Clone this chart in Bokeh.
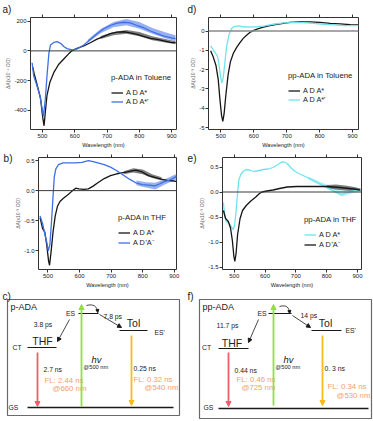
from bokeh.plotting import figure
from bokeh.models import (Range1d, LinearAxis, FixedTicker, Span, Legend, LegendItem,
                          Label, Arrow, NormalHead, PrintfTickFormatter)
from bokeh.layouts import row, column
from bokeh.embed import file_html
from bokeh.resources import INLINE
from bokeh.core.properties import value

FONT = "Liberation Sans"
WL_TICKS = [500, 600, 700, 800, 900]

# ---------------- data ----------------
# a) p-ADA in Toluene  (x10^-6 OD)
a_black_wl = [470, 474, 483, 494, 501, 505, 509, 514, 523, 535, 550, 566, 581, 592, 607, 628, 648, 669,
              690, 710, 731, 752, 772, 793, 813, 834, 855, 876, 896, 912]
a_black = [-110, -150, -225, -320, -450, -505, -410, -300, -212, -147, -92, -55, -20, 2, 17, 33, 55, 79,
           98, 116, 127, 129, 122, 112, 98, 85, 77, 68, 57, 55]
a_blue_wl = [468, 473, 483, 492, 499, 503, 509, 514, 520, 525, 535, 545, 556, 566, 576, 592, 607, 628, 648,
             669, 690, 710, 731, 752, 772, 793, 813, 834, 855, 876, 896, 912]
a_blue = [-80, -170, -235, -300, -390, -440, -323, -169, -15, 40, 57, 62, 51, 29, 15, 7, 13, 40, 77,
          116, 149, 171, 187, 193, 189, 171, 156, 134, 116, 99, 90, 83]
# noise envelopes (low, high)
a_blue_band_wl = [640, 680, 720, 760, 800, 840, 880, 912]
a_blue_lo = [55, 118, 160, 172, 150, 115, 85, 65]
a_blue_hi = [75, 148, 195, 215, 195, 155, 125, 105]
a_black_band_wl = [680, 720, 760, 800, 840, 880, 912]
a_black_lo = [80, 106, 116, 98, 72, 56, 45]
a_black_hi = [100, 128, 140, 128, 98, 80, 65]

# b) p-ADA in THF  (x10^-3 OD)
b_black_wl = [475, 483, 490, 496, 502, 505, 510, 516, 523, 530, 538, 548, 563, 578, 588, 598, 613, 628, 643,
              658, 678, 698, 718, 738, 758, 778, 798, 818, 838, 858, 878, 898, 908]
b_black = [-0.45, -0.63, -0.69, -0.90, -1.17, -1.24, -1.01, -0.69, -0.42, -0.26, -0.18, -0.13, -0.07, 0.0,
           0.04, 0.03, 0.02, 0.03, 0.075, 0.13, 0.20, 0.25, 0.28, 0.30, 0.32, 0.34, 0.31, 0.25, 0.22, 0.19,
           0.17, 0.16, 0.15]
b_blue_wl = [475, 483, 490, 496, 501, 506, 511, 516, 520, 525, 533, 548, 568, 588, 608, 628, 643, 658, 678,
             698, 718, 738, 758, 778, 798, 818, 838, 853, 868, 888, 908]
b_blue = [-0.42, -0.55, -0.72, -0.85, -1.00, -0.90, -0.53, -0.10, 0.23, 0.36, 0.43, 0.46, 0.46, 0.46, 0.47,
          0.50, 0.48, 0.46, 0.43, 0.39, 0.33, 0.26, 0.19, 0.13, 0.10, 0.09, 0.08, 0.11, 0.15, 0.18, 0.24]
b_blue_band_wl = [780, 810, 840, 870, 908]
b_blue_lo = [0.09, 0.05, 0.02, 0.10, 0.19]
b_blue_hi = [0.17, 0.14, 0.13, 0.19, 0.28]
b_black_band_wl = [740, 770, 800, 830, 860]
b_black_lo = [0.27, 0.30, 0.27, 0.21, 0.17]
b_black_hi = [0.32, 0.37, 0.35, 0.27, 0.22]

# d) pp-ADA in Toluene  (x10^-3 OD)
d_black_wl = [469, 477, 485, 492, 497, 502, 506, 510, 515, 522, 529, 538, 548, 558, 568, 578, 588, 598, 614,
              629, 649, 670, 690, 710, 741, 771, 801, 832, 862, 893, 918]
d_black = [-1.02, -1.35, -1.77, -2.50, -3.50, -4.35, -4.68, -4.27, -3.35, -2.27, -1.60, -1.15, -0.85, -0.60,
           -0.38, -0.22, -0.08, 0.02, 0.12, 0.20, 0.28, 0.35, 0.40, 0.45, 0.47, 0.47, 0.45, 0.40, 0.37, 0.33,
           0.32]
d_cyan_wl = [469, 475, 482, 489, 494, 499, 503, 507, 512, 517, 525, 532, 540, 553, 568, 588, 609, 629, 659,
             690, 720, 751, 781, 812, 842, 873, 903, 918]
d_cyan = [-0.77, -0.93, -1.10, -1.27, -1.68, -2.35, -2.68, -2.43, -1.68, -0.85, -0.18, 0.12, 0.23, 0.27, 0.22,
          0.20, 0.22, 0.25, 0.35, 0.42, 0.43, 0.43, 0.40, 0.35, 0.32, 0.28, 0.28, 0.28]

# e) pp-ADA in THF  (x10^-3 OD)
e_cyan_wl = [465, 469, 474, 481, 488, 493, 497, 501, 505, 510, 515, 522, 529, 539, 549, 565, 580, 595, 611,
             626, 642, 654, 662, 672, 683, 698, 713, 734, 754, 775, 795, 816, 837, 847, 857, 878, 898, 908]
e_cyan = [-0.21, -0.46, -0.59, -0.62, -0.67, -0.72, -0.75, -0.67, -0.46, -0.08, 0.24, 0.36, 0.41, 0.45, 0.44,
          0.41, 0.43, 0.45, 0.46, 0.49, 0.55, 0.60, 0.60, 0.57, 0.49, 0.41, 0.36, 0.30, 0.24, 0.17, 0.11,
          0.04, -0.02, -0.05, -0.03, 0.01, 0.03, 0.04]
e_black_wl = [465, 472, 481, 488, 494, 499, 502, 506, 511, 519, 527, 539, 554, 570, 580, 590, 606, 626, 647,
              672, 703, 734, 765, 796, 826, 857, 888, 908]
e_black = [-0.37, -0.53, -0.59, -0.72, -0.97, -1.29, -1.39, -1.23, -0.85, -0.53, -0.37, -0.27, -0.18, -0.10,
           -0.04, 0.0, 0.02, 0.04, 0.07, 0.10, 0.11, 0.11, 0.11, 0.11, 0.10, 0.08, 0.06, 0.04]
e_cyan_band_wl = [740, 780, 820, 850, 880, 910]
e_cyan_lo = [0.25, 0.13, 0.0, -0.09, -0.03, 0.01]
e_cyan_hi = [0.31, 0.20, 0.10, 0.03, 0.05, 0.06]
e_black_band_wl = [800, 830, 860, 890, 910]
e_black_lo = [0.08, 0.05, 0.03, 0.02, 0.02]
e_black_hi = [0.14, 0.15, 0.13, 0.10, 0.07]

# energy diagram texts
c_texts = ["p-ADA", "ES", "7.8 ps", "Tol", "ES'", "3.8 ps", "THF", "CT", "2.7 ns", "FL: 2.44 ns", "@660 nm",
           "hv", "@500 nm", "0.25 ns", "FL: 0.32 ns", "@540 nm", "GS"]
f_texts = ["pp-ADA", "ES", "14 ps", "Tol", "ES'", "11.7 ps", "THF", "CT", "0.44 ns", "FL: 0.46 ns", "@725 nm",
           "hv", "@500 nm", "0. 3 ns", "FL: 0.34 ns", "@530 nm", "GS"]

# ---------------- styling / layout ----------------
BLACK = "#161616"
BLUE = "#3f6fe6"
CYAN = "#6fe4ee"
RED = "#ee5f6a"
GREEN = "#8fe040"
YELLOW = "#f6bd1a"
ORANGE = "#f4a06e"
TXT = "#222222"


def spectrum(W, H, borders, xr, yr, yticks, yfmt, ylabel, series, bands, title, leg_lb, tag, tag_xy,
             tag_on_left=False, zero_color="#3a3a3a", zero_w=1.0):
    bl, br, bt, bb = borders
    p = figure(width=W, height=H, x_range=Range1d(*xr), y_range=Range1d(*yr),
               output_backend="svg", toolbar_location=None,
               min_border_left=bl, min_border_right=br, min_border_top=bt, min_border_bottom=bb)
    p.xgrid.visible = False
    p.ygrid.visible = False
    p.outline_line_color = "#333333"
    p.outline_line_width = 1
    p.background_fill_color = "white"
    p.border_fill_color = "white"

    for ax in (p.xaxis[0], p.yaxis[0]):
        ax.axis_line_color = None
        ax.major_tick_out = 3
        ax.major_tick_in = 0
        ax.minor_tick_out = 0
        ax.minor_tick_in = 0
        ax.major_tick_line_color = "#333333"
        ax.major_label_text_font = FONT
        ax.major_label_text_font_size = "6px"
        ax.major_label_text_color = TXT
        ax.major_label_standoff = 1
        ax.axis_label_text_font = FONT
        ax.axis_label_text_font_size = "5.6px"
        ax.axis_label_text_font_style = "normal"
        ax.axis_label_standoff = 1
    p.xaxis.ticker = FixedTicker(ticks=WL_TICKS)
    p.xaxis.axis_label = "Wavelength (nm)"
    p.xaxis.axis_label_text_color = TXT
    p.yaxis.ticker = FixedTicker(ticks=yticks)
    p.yaxis.formatter = PrintfTickFormatter(format=yfmt)
    p.yaxis.axis_label = ylabel
    p.yaxis.axis_label_text_color = "#666666"
    p.yaxis.axis_label_text_font_size = "5px"
    p.yaxis.axis_label_standoff = 0

    top = LinearAxis(ticker=FixedTicker(ticks=WL_TICKS),
                     major_label_overrides={t: "" for t in WL_TICKS},
                     major_label_text_font_size="1px",
                     major_tick_out=3, major_tick_in=0, minor_tick_out=0, minor_tick_in=0,
                     axis_line_color=None, major_label_standoff=0, major_tick_line_color="#333333")
    p.add_layout(top, "above")

    if tag_on_left:
        # panel tag as the single label of an outer, tick-less left axis at the frame top
        p.extra_y_ranges = {"tag": Range1d(0, 100.5)}
        tag_axis = LinearAxis(y_range_name="tag", ticker=FixedTicker(ticks=[100]),
                              major_label_overrides={100: tag},
                              major_label_text_font=FONT, major_label_text_font_size="10px",
                              major_label_text_color=TXT, major_label_standoff=0,
                              major_tick_out=0, major_tick_in=0, minor_tick_out=0, minor_tick_in=0,
                              axis_line_color=None, major_tick_line_color=None)
        p.add_layout(tag_axis, "left")
    else:
        p.add_layout(Label(x=tag_xy[0], y=tag_xy[1], x_units="screen", y_units="screen", text=tag,
                           text_font=FONT, text_font_size="10px", text_color=TXT,
                           text_baseline="middle", text_align="left"), "above")

    p.add_layout(Span(location=0, dimension="width", line_color=zero_color, line_width=zero_w))

    for wl, lo, hi, color in bands:
        p.varea(x=wl, y1=lo, y2=hi, fill_color=color, fill_alpha=0.55)

    items = []
    for wl, vals, color, lab in series:
        r = p.line(wl, vals, line_color=color, line_width=1.3)
        items.append(LegendItem(label=lab, renderers=[r]))

    lx = leg_lb[0] - bl
    ly = (H - bb) - leg_lb[1]
    leg = Legend(items=items, title=title, location=(lx, ly),
                 background_fill_alpha=0, border_line_alpha=0, padding=0, margin=0, spacing=0,
                 title_text_font=FONT, title_text_font_size="7.8px", title_text_font_style="normal",
                 title_text_color=TXT, title_standoff=6,
                 label_text_font=FONT, label_text_font_size="7.3px", label_text_color=TXT,
                 glyph_width=12, glyph_height=7, label_height=7, label_standoff=3)
    p.add_layout(leg)
    return p


LEFT_W, RIGHT_W = 184, 189
ROW_H = [150, 140, 131]

pa = spectrum(LEFT_W, ROW_H[0], (30, 8, 17, 18), (463, 915), (-530, 225),
              [-400, -200, 0, 200], "%d", "ΔA(x10⁻⁶ OD)",
              [(a_black_wl, a_black, BLACK, "A D A*"), (a_blue_wl, a_blue, BLUE, "A D A*'")],
              [(a_black_band_wl, a_black_lo, a_black_hi, BLACK),
               (a_blue_band_wl, a_blue_lo, a_blue_hi, BLUE)],
              "p-ADA in Toluene", (111, 109), "a)", (-28, 5))
pb = spectrum(LEFT_W, ROW_H[1], (31, 8, 7, 18), (470, 907), (-1.31, 0.55),
              [-1.0, -0.5, 0.0, 0.5], "%.1f", "ΔA(x10⁻³ OD)",
              [(b_black_wl, b_black, BLACK, "A D A*"), (b_blue_wl, b_blue, BLUE, "A D⁺A⁻")],
              [(b_black_band_wl, b_black_lo, b_black_hi, BLACK),
               (b_blue_band_wl, b_blue_lo, b_blue_hi, BLUE)],
              "p-ADA in THF", (111, 100), "b)", None, tag_on_left=True)
pd = spectrum(RIGHT_W, ROW_H[0], (24, 15, 17, 18), (462.5, 918), (-5.1, 0.7),
              [-5, -4, -3, -2, -1, 0], "%d", "ΔA(x10⁻³ OD)",
              [(d_black_wl, d_black, BLACK, "A D A*"), (d_cyan_wl, d_cyan, CYAN, "A D A*'")],
              [],
              "pp-ADA in Toluene", (104, 107), "d)", (-21, 5),
              zero_color="#8a8a8a", zero_w=1.6)
pe = spectrum(RIGHT_W, ROW_H[1], (30, 12, 7, 18), (462, 913), (-1.55, 0.69),
              [-1.5, -1.0, -0.5, 0.0, 0.5], "%.1f", "ΔA(x10⁻³ OD)",
              [(e_cyan_wl, e_cyan, CYAN, "A D A*"), (e_black_wl, e_black, BLACK, "A D⁺A⁻")],
              [(e_cyan_band_wl, e_cyan_lo, e_cyan_hi, CYAN),
               (e_black_band_wl, e_black_lo, e_black_hi, BLACK)],
              "pp-ADA in THF", (112, 102), "e)", None, tag_on_left=True)

# diagram geometry, in the reference picture's pixel frame
c_geom = dict(
    region=(0, 184, 290, 421), box=(7, 179, 299, 415), tag=("c)", 2, 296),
    levels=[(78, 98, 313, 1.2), (119, 147, 330, 1.2), (27, 56, 347, 1.2), (27, 173, 407, 1.5)],
    color_arrows=[(37, 352, 37, 406, RED), (81, 406, 81, 304, GREEN), (131, 335, 131, 405, YELLOW)],
    thin_arrows=[(99, 314, 121, 327), (69, 319, 57, 341)],
    hook=(86, 305, 97, 312),
    text_pos=[(10, 306, "left", 9, TXT, "normal"), (70, 313, "center", 6.8, TXT, "normal"),
              (103, 316, "left", 6.8, TXT, "normal"), (133, 322, "center", 10.5, TXT, "normal"),
              (154, 332, "left", 6.8, TXT, "normal"), (42.5, 324, "center", 6.8, TXT, "normal"),
              (42, 340, "center", 10.5, TXT, "normal"), (16.5, 347, "center", 6.8, TXT, "normal"),
              (43, 369, "left", 6.8, TXT, "normal"), (44, 380, "left", 7.8, ORANGE, "normal"),
              (52, 388, "left", 7.8, ORANGE, "normal"), (96, 359, "center", 9.4, TXT, "italic"),
              (83, 366, "left", 5.7, TXT, "normal"), (133, 368, "left", 6.8, TXT, "normal"),
              (133, 379, "left", 7.8, ORANGE, "normal"), (144, 387, "left", 7.8, ORANGE, "normal"),
              (8, 407, "left", 6.8, TXT, "normal")],
)
f_geom = dict(
    region=(184, 373, 290, 421), box=(199, 371, 299, 418), tag=("f)", 187, 296),
    levels=[(268, 291, 313, 1.2), (311, 341, 330, 1.2), (218, 248, 348, 1.2), (218, 368, 408, 1.5)],
    color_arrows=[(228, 352, 228, 406, RED), (273, 405, 273, 304, GREEN), (322, 335, 322, 405, YELLOW)],
    thin_arrows=[(292, 315, 310, 327), (258, 319, 248, 342)],
    hook=(279, 306, 289, 313),
    text_pos=[(202, 306, "left", 9, TXT, "normal"), (261.5, 313, "center", 6.8, TXT, "normal"),
              (300, 315, "left", 6.8, TXT, "normal"), (325, 322, "center", 10.5, TXT, "normal"),
              (345, 330, "left", 6.8, TXT, "normal"), (227, 325, "center", 6.8, TXT, "normal"),
              (231.5, 342, "center", 10.5, TXT, "normal"), (206, 347, "center", 6.8, TXT, "normal"),
              (234, 370, "left", 6.8, TXT, "normal"), (236, 379, "left", 7.8, ORANGE, "normal"),
              (241, 387, "left", 7.8, ORANGE, "normal"), (288, 359, "center", 9.4, TXT, "italic"),
              (275, 366, "left", 5.7, TXT, "normal"), (324, 368, "left", 6.8, TXT, "normal"),
              (327, 386, "left", 7.8, ORANGE, "normal"), (336, 395, "left", 7.8, ORANGE, "normal"),
              (203, 407, "left", 6.8, TXT, "normal")],
)


def diagram(W, H, geom, texts):
    x0, x1, y0, y1 = geom["region"]
    p = figure(width=W, height=H, x_range=Range1d(x0, x1), y_range=Range1d(y1, y0),
               x_axis_type=None, y_axis_type=None, output_backend="svg", toolbar_location=None,
               min_border_left=0, min_border_right=0, min_border_top=0, min_border_bottom=0)
    p.outline_line_color = None
    p.background_fill_color = "white"
    p.border_fill_color = "white"
    bl, br, bt, bb = geom["box"]
    p.quad(left=[bl], right=[br], top=[bt], bottom=[bb], fill_color="white",
           line_color="#6a6a6a", line_width=1.2)
    for (a, b, y, w) in geom["levels"]:
        p.segment(x0=[a], y0=[y], x1=[b], y1=[y], line_color="#1a1a1a", line_width=w)
    for (xs, ys, xe, ye, c) in geom["color_arrows"]:
        p.add_layout(Arrow(x_start=xs, y_start=ys, x_end=xe, y_end=ye, line_color=c, line_width=1.8,
                           end=NormalHead(size=5, fill_color=c, line_color=c)))
    for (xs, ys, xe, ye) in geom["thin_arrows"]:
        p.add_layout(Arrow(x_start=xs, y_start=ys, x_end=xe, y_end=ye, line_color="#1a1a1a",
                           line_width=0.8, end=NormalHead(size=4, fill_color="#1a1a1a",
                                                          line_color="#1a1a1a")))
    hx0, hy0, hx1, hy1 = geom["hook"]
    p.bezier(x0=[hx0], y0=[hy0], x1=[hx1], y1=[hy1], cx0=[hx0 + 7], cy0=[hy0 - 2],
             cx1=[hx1], cy1=[hy0 + 1], line_color="#1a1a1a", line_width=0.8)
    p.add_layout(Arrow(x_start=hx1, y_start=hy1 - 2, x_end=hx1 + 0.3, y_end=hy1, line_alpha=0,
                       end=NormalHead(size=3, fill_color="#1a1a1a", line_color="#1a1a1a")))
    for (x, y, al, size, col, style), s in zip(geom["text_pos"], texts):
        p.text(x=[x], y=[y], text=[s], text_font=value(FONT), text_font_size=f"{size}px",
               text_color=col, text_align=al, text_baseline="middle", text_font_style=style)
    tag, tx, ty = geom["tag"]
    p.text(x=[tx], y=[ty], text=[tag], text_font=value(FONT), text_font_size="10px",
           text_color=TXT, text_align="left", text_baseline="middle")
    return p


pc = diagram(LEFT_W, ROW_H[2], c_geom, c_texts)
pf = diagram(RIGHT_W, ROW_H[2], f_geom, f_texts)

layout = column(row(pa, pd, spacing=0), row(pb, pe, spacing=0), row(pc, pf, spacing=0), spacing=0)

with open("out.html", "w") as fh:
    fh.write(file_html(layout, INLINE))
